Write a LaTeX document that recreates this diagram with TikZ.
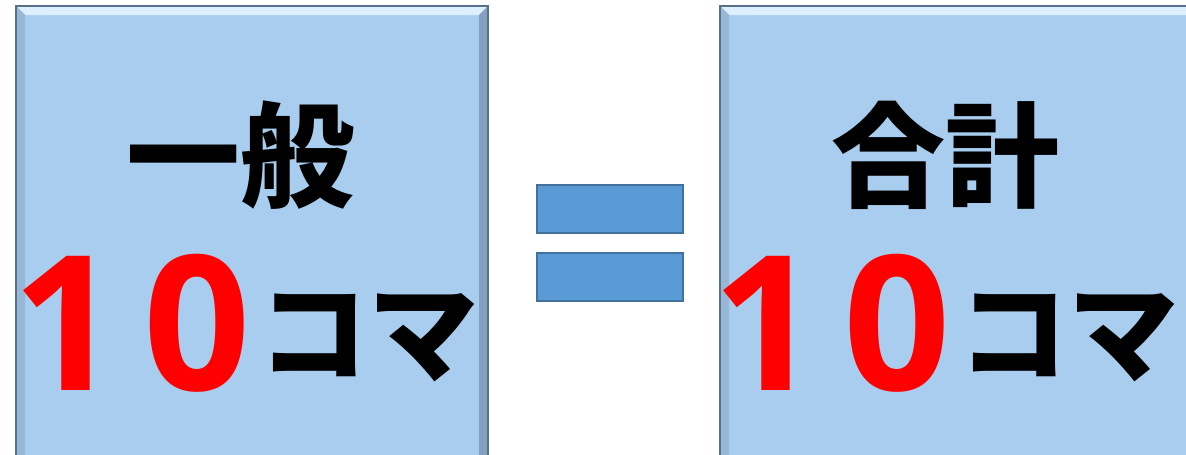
\documentclass[tikz,border=0pt]{standalone}
\usepackage{fontspec}
\newfontfamily\jpfont{Noto Sans CJK JP}
\newfontfamily\numfont{Open Sans}
\usetikzlibrary{positioning}
\definecolor{tilefill}{RGB}{168,205,238}
\definecolor{tileedge}{RGB}{88,112,138}
\definecolor{tilelight}{RGB}{222,240,253}
\definecolor{tileshade}{RGB}{132,160,190}
\definecolor{barfill}{RGB}{91,155,213}
\definecolor{baredge}{RGB}{65,113,156}
\definecolor{numred}{RGB}{255,0,0}

\begin{document}
\begin{tikzpicture}[x=1pt,y=-1pt,
    word/.style={font=\jpfont\bfseries\fontsize{114}{114}\selectfont,inner sep=0pt},
    unit/.style={font=\jpfont\bfseries\fontsize{110}{110}\selectfont,inner sep=0pt},
    digits/.style={font=\numfont\bfseries\fontsize{188}{188}\selectfont,text=numred,inner sep=0pt},
    bar/.style={fill=barfill,draw=baredge,line width=2pt,minimum width=146pt,minimum height=48pt,inner sep=0pt}]
      \useasboundingbox (0,0) rectangle (1186,455) ;
      % the two tiles, with a rough bevel
      \foreach \xl/\xr in {16/488, 720/1200} {
        \fill[tilefill] (\xl,6) rectangle (\xr,470) ;
        \fill[tilelight] (\xl,6) -- (\xr,6) -- (\xr-9,15) -- (\xl+9,15) -- cycle ;
        \fill[tileshade!50!tilefill] (\xl,6) -- (\xl+9,15) -- (\xl+9,470) -- (\xl,470) -- cycle ;
        \fill[tileshade] (\xr,6) -- (\xr,470) -- (\xr-9,470) -- (\xr-9,15) -- cycle ;
        \draw[tileedge,line width=1.2pt] (\xl,470) -- (\xl,6) -- (\xr,6) -- (\xr,470) ;
      }
      % equals sign
      \node[bar] (eqtop) at (610,209) {} ;
      \node[bar] (eqbot) at (610,277) {} ;
      % left tile text
      \node[word] (ippan) at (240,155) {一般} ;
      \node[digits] (numL) at (132,323) {1\hspace{24pt}0} ;
      \node[unit] (komaL) at (368,338) {コマ} ;
      % right tile text
      \node[word] (goukei) at (945,155) {合計} ;
      \node[digits] (numR) at (832,323) {1\hspace{24pt}0} ;
      \node[unit] (komaR) at (1068,338) {コマ} ;
\end{tikzpicture}
\end{document}
